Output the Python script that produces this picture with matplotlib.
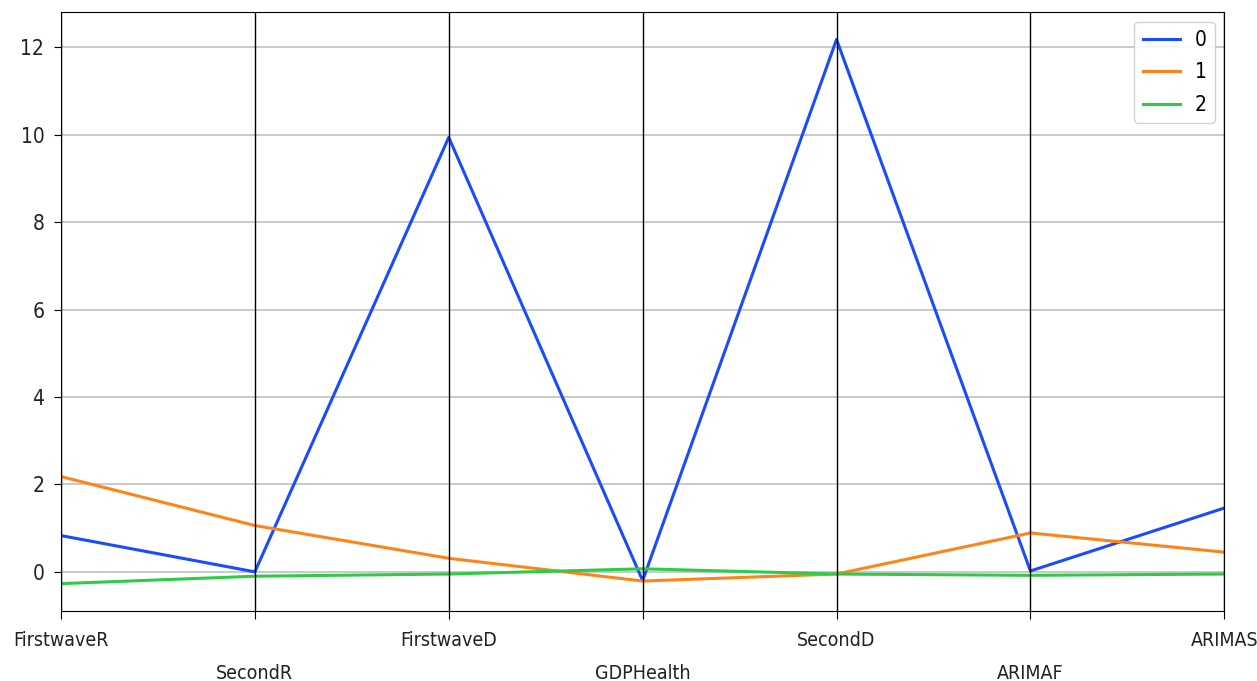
import matplotlib
matplotlib.use("Agg")
import matplotlib.pyplot as plt
from matplotlib import font_manager

columns = ["FirstwaveR", "SecondR", "FirstwaveD", "GDPHealth", "SecondD", "ARIMAF", "ARIMAS"]
series_labels = ["0", "1", "2"]
values_0 = [0.83, 0.0, 9.94, -0.20, 12.18, 0.02, 1.46]
values_1 = [2.18, 1.06, 0.31, -0.21, -0.05, 0.89, 0.45]
values_2 = [-0.27, -0.10, -0.05, 0.07, -0.05, -0.08, -0.05]
colors = ["#1a4cff", "#ff8418", "#2ecc46"]

try:
    font_manager.findfont("Liberation Sans Narrow", fallback_to_default=False)
    fam = ["Liberation Sans Narrow", "DejaVu Sans"]
    stretch = "normal"
except Exception:
    fam = ["DejaVu Sans"]
    stretch = "condensed"

fig = plt.figure(figsize=(12.57, 6.81), dpi=100)
ax = fig.add_axes([0.0485, 0.103, 0.9255, 0.879])

x = list(range(len(columns)))
for vals, lab, c in zip([values_0, values_1, values_2], series_labels, colors):
    ax.plot(x, vals, color=c, lw=2.2, label=lab)

for xi in x:
    ax.axvline(xi, color="black", lw=1.0)

ax.set_xlim(0, len(columns) - 1)
ax.grid(True, axis="y", color="#c0c0c0", lw=1.2)
ax.set_axisbelow(True)
ax.set_yticks([0, 2, 4, 6, 8, 10, 12])

ax.set_xticks(x)
ax.set_xticklabels(columns)
for i, t in enumerate(ax.get_xticklabels()):
    t.set_fontsize(14)
    t.set_family(fam)
    t.set_fontstretch(stretch)
    t.set_color("#222222")
    if i % 2 == 1:
        t.set_y(-0.055)
for t in ax.get_yticklabels():
    t.set_fontsize(15)
    t.set_family(fam)
    t.set_fontstretch(stretch)
    t.set_color("#222222")
ax.tick_params(axis="x", length=6, pad=8.5)
ax.tick_params(axis="y", length=5, pad=7)

leg = ax.legend(loc="upper right", handlelength=1.8, framealpha=0.9,
                prop={"family": fam, "size": 15, "stretch": stretch},
                borderpad=0.4, labelspacing=0.6, handletextpad=0.7,
                borderaxespad=0.45)

fig.savefig("out.png", dpi=100)
